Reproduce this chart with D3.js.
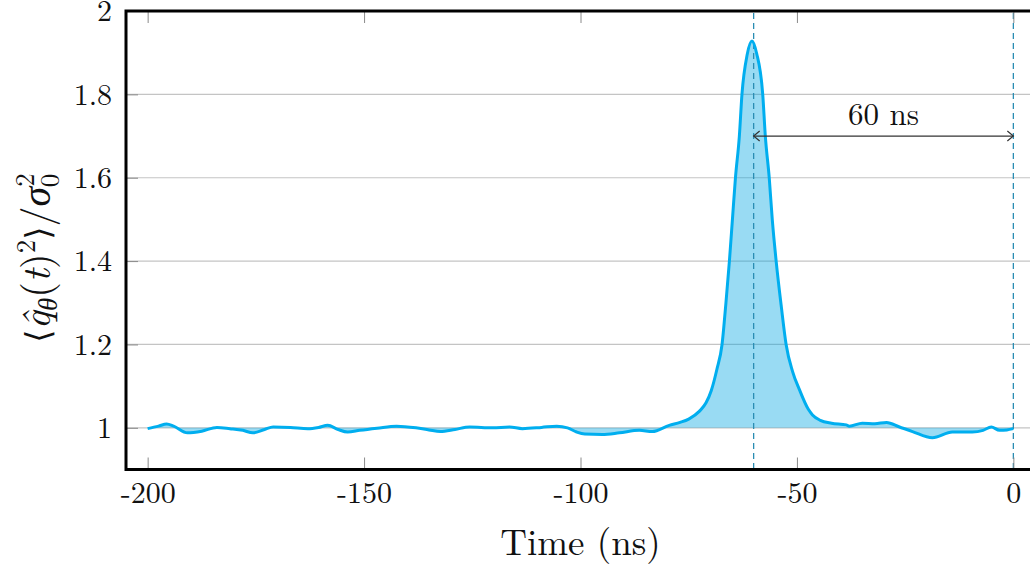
<!DOCTYPE html>
<html>
<head>
<meta charset="utf-8">
<script src="https://cdn.jsdelivr.net/npm/d3@7"></script>
<style>
  html, body { margin: 0; padding: 0; background: #fff; }
  svg { display: block; }
</style>
</head>
<body>
<svg id="chart" width="1030" height="567"></svg>
<script>
// ---- data ----
const timeNs = [-200, -197.5, -195.6, -194, -190.8, -187.5, -184, -181, -178, -175.7, -173, -171, -167, -163, -160.5, -158.4, -156, -153.8, -151, -147, -142.5, -138, -135, -132.4, -129, -125.6, -120.3, -116.4, -113.4, -109, -105.5, -103, -100.9, -99, -95, -91, -86.4, -83.4, -79.5, -77, -75, -72.5, -71, -69.8, -68.5, -67.3, -66.4, -65.6, -64.9, -64.2, -63.3, -62.7, -61.5, -60.4, -59.3, -57.9, -57.3, -56.4, -55.7, -54.8, -53.6, -52.5, -51, -49.4, -47.4, -46.4, -44.6, -42, -38.6, -37.9, -34.9, -32, -29.3, -26.3, -23.3, -18.7, -14.1, -9.5, -7, -5.1, -3.2, -1.5, 0];
const variance = [0.998, 1.004, 1.009, 1.004, 0.988, 0.992, 1.001, 0.998, 0.994, 0.988, 0.996, 1.002, 1.001, 0.998, 1.001, 1.006, 0.996, 0.990, 0.994, 0.999, 1.004, 1.000, 0.995, 0.991, 0.996, 1.002, 1.000, 1.002, 0.998, 1.001, 1.004, 1.000, 0.990, 0.985, 0.984, 0.988, 0.994, 0.991, 1.006, 1.013, 1.021, 1.040, 1.060, 1.089, 1.14, 1.2, 1.3, 1.4, 1.5, 1.6, 1.7, 1.8, 1.895, 1.928, 1.898, 1.8, 1.7, 1.6, 1.5, 1.4, 1.29, 1.2, 1.135, 1.091, 1.045, 1.031, 1.018, 1.011, 1.007, 1.004, 1.011, 1.010, 1.013, 1.002, 0.991, 0.976, 0.990, 0.990, 0.994, 1.002, 0.994, 0.995, 0.998];
const xTicks = [-200, -150, -100, -50, 0];
const yTicks = [1, 1.2, 1.4, 1.6, 1.8, 2];
const yTickLabels = ["1", "1.2", "1.4", "1.6", "1.8", "2"];
const markerTimes = [-60, 0];
const arrowLevel = 1.7;
const arrowLabel = "60 ns";
const xLabel = "Time (ns)";

// ---- layout ----
const FONT = '"Latin Modern Roman", "Liberation Serif", "DejaVu Serif"';
const svg = d3.select("#chart");
const x = d3.scaleLinear().domain([-205, 5]).range([126, 1035]);
const y = d3.scaleLinear().domain([0.9, 2]).range([469.5, 11]);
const data = timeNs.map((t, i) => ({ t, v: variance[i] }));

// gridlines
svg.append("g").selectAll("line").data(yTicks.filter(d => d < 2)).join("line")
  .attr("x1", x.range()[0]).attr("x2", x.range()[1])
  .attr("y1", d => y(d)).attr("y2", d => y(d))
  .attr("stroke", "#c4c4c4").attr("stroke-width", 1.2);

// fill between curve and 1
svg.append("path").datum(data)
  .attr("d", d3.area().x(d => x(d.t)).y0(y(1)).y1(d => y(d.v)).curve(d3.curveMonotoneX))
  .attr("fill", "rgb(0,165,225)").attr("fill-opacity", 0.4);

// dashed markers
svg.append("g").selectAll("line").data(markerTimes).join("line")
  .attr("x1", d => x(d)).attr("x2", d => x(d))
  .attr("y1", y.range()[1] + 2).attr("y2", y.range()[0])
  .attr("stroke", "#2a8db3").attr("stroke-width", 1.3)
  .attr("stroke-dasharray", "6,4");

// curve
svg.append("path").datum(data)
  .attr("d", d3.line().x(d => x(d.t)).y(d => y(d.v)).curve(d3.curveMonotoneX))
  .attr("fill", "none").attr("stroke", "#00aeef").attr("stroke-width", 3)
  .attr("stroke-linejoin", "round");

// axes
const tickCol = "#8a8a8a";
const gx = svg.append("g").attr("transform", `translate(0,${y.range()[0]})`)
  .call(d3.axisBottom(x).tickValues(xTicks).tickFormat(d => String(d)).tickSizeInner(-12).tickSizeOuter(0).tickPadding(12));
const gxt = svg.append("g").attr("transform", `translate(0,${y.range()[1]})`)
  .call(d3.axisTop(x).tickValues(xTicks).tickFormat("").tickSizeInner(-12).tickSizeOuter(0));
const gy = svg.append("g").attr("transform", `translate(${x.range()[0]},0)`)
  .call(d3.axisLeft(y).tickValues(yTicks).tickFormat((d, i) => yTickLabels[i]).tickSizeInner(-12).tickSizeOuter(0).tickPadding(14));
[gx, gxt, gy].forEach(g => {
  g.attr("font-family", FONT).attr("font-size", 30);
  g.select(".domain").remove();
  g.selectAll(".tick line").attr("stroke", tickCol).attr("stroke-width", 1);
  g.selectAll(".tick text").attr("fill", "#111");
});
gy.selectAll(".tick text").attr("dy", "0.33em");

// spines
const sp = svg.append("g").attr("stroke", "#000").attr("stroke-width", 3).attr("fill", "none");
sp.append("path").attr("d", `M${x.range()[1]},${y.range()[1]}H${x.range()[0]}V${y.range()[0]}H${x.range()[1]}`);

// arrow
const defs = svg.append("defs");
["arrEnd", "arrStart"].forEach((id, k) => {
  defs.append("marker").attr("id", id).attr("viewBox", "-8 -6 10 12")
    .attr("refX", 0).attr("refY", 0).attr("markerWidth", 10).attr("markerHeight", 12)
    .attr("markerUnits", "userSpaceOnUse").attr("orient", k === 0 ? "auto" : "auto-start-reverse")
    .append("path").attr("d", "M-6,-5 L0,0 L-6,5").attr("fill", "none")
    .attr("stroke", "#333").attr("stroke-width", 1.2);
});
svg.append("line")
  .attr("x1", x(markerTimes[0])).attr("x2", x(markerTimes[1]))
  .attr("y1", y(arrowLevel)).attr("y2", y(arrowLevel))
  .attr("stroke", "#333").attr("stroke-width", 1.3)
  .attr("marker-end", "url(#arrEnd)").attr("marker-start", "url(#arrStart)");
svg.append("text")
  .attr("x", (x(markerTimes[0]) + x(markerTimes[1])) / 2).attr("y", y(arrowLevel) - 11)
  .attr("text-anchor", "middle").attr("font-family", FONT).attr("font-size", 31)
  .attr("fill", "#111").text(arrowLabel);

// x label
svg.append("text").attr("x", (x.range()[0] + x.range()[1]) / 2).attr("y", 555)
  .attr("text-anchor", "middle").attr("font-family", FONT).attr("font-size", 37)
  .attr("fill", "#111").text(xLabel);

// y label
const yl = svg.append("text").attr("transform", "translate(50,258) rotate(-90)")
  .attr("text-anchor", "middle").attr("font-family", FONT).attr("font-size", 40).attr("fill", "#111");
yl.append("tspan").attr("font-family", '"DejaVu Serif"').attr("font-weight", 300).attr("font-size", 34).text("⟨");
yl.append("tspan").attr("font-style", "italic").text("q\u0302");
yl.append("tspan").attr("font-style", "italic").attr("font-size", 27).attr("dy", 7).text("θ");
yl.append("tspan").attr("dy", -7).text("(");
yl.append("tspan").attr("font-style", "italic").text("t");
yl.append("tspan").text(")");
yl.append("tspan").attr("font-size", 27).attr("dy", -15).text("2");
yl.append("tspan").attr("font-family", '"DejaVu Serif"').attr("font-weight", 300).attr("font-size", 34).attr("dy", 15).text("⟩");
yl.append("tspan").text("/");
yl.append("tspan").attr("font-style", "italic").text("σ");
yl.append("tspan").attr("font-size", 27).attr("dy", -16).text("2");
yl.append("tspan").attr("font-size", 27).attr("dx", -14).attr("dy", 25).text("0");
</script>
</body>
</html>
